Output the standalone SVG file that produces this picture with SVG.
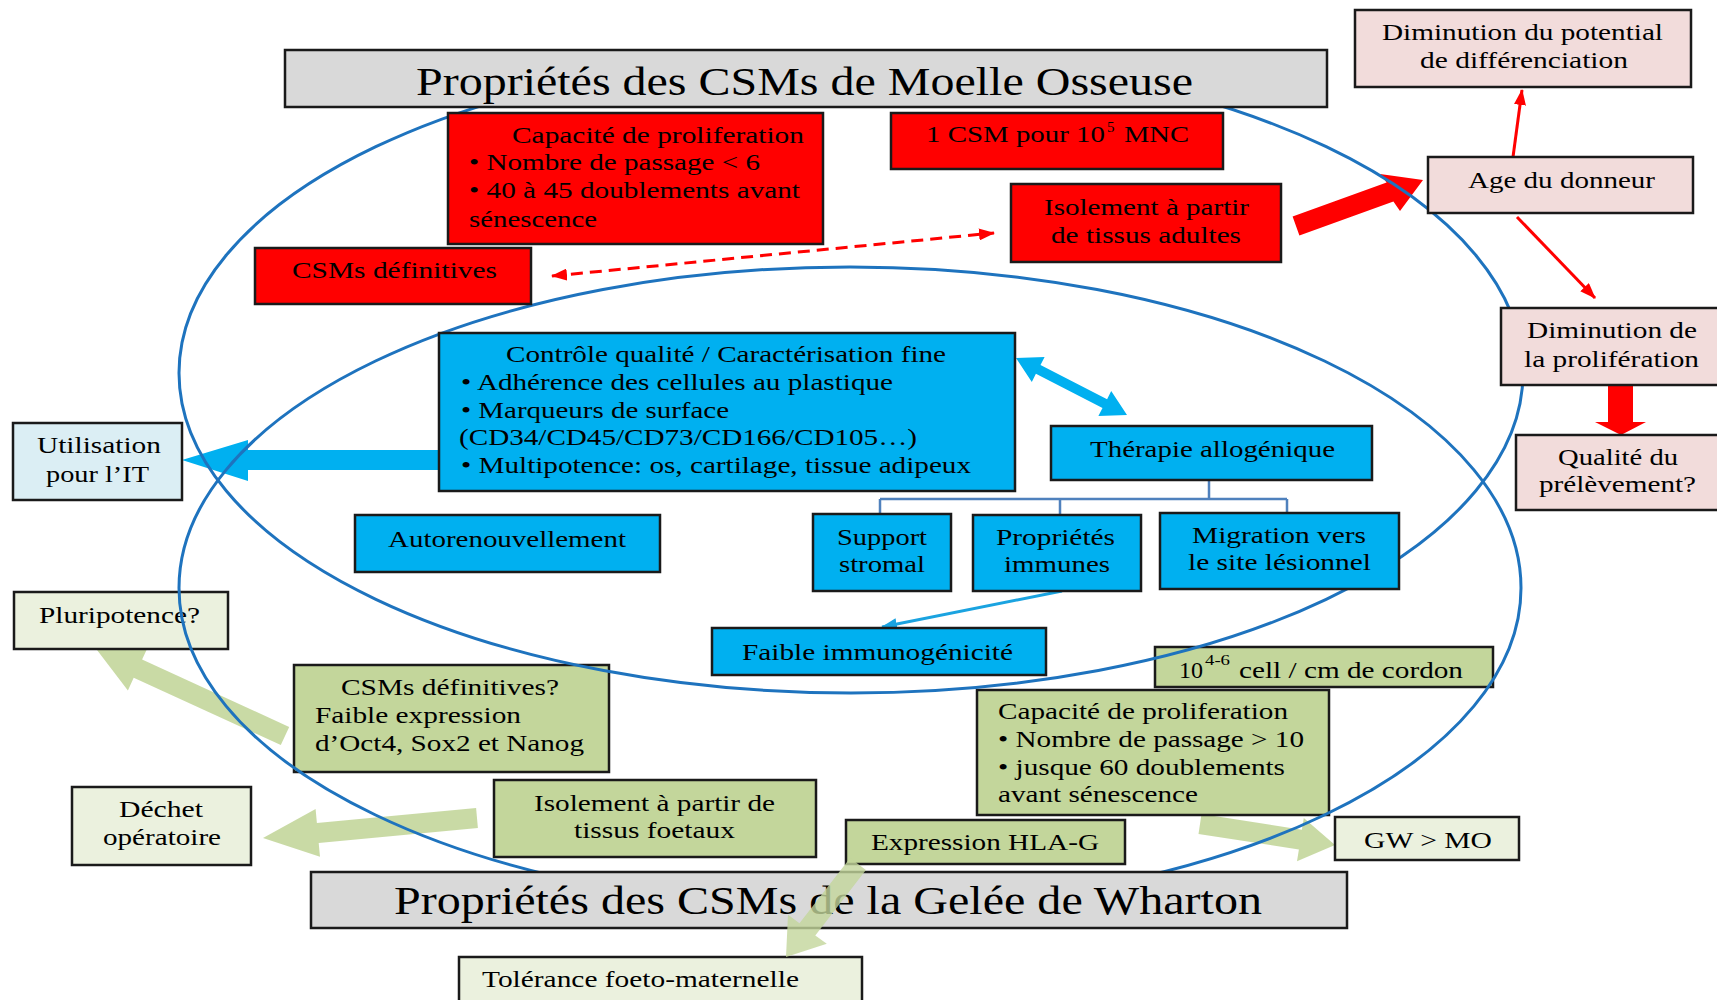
<svg xmlns="http://www.w3.org/2000/svg" width="1717" height="1000" viewBox="0 0 1717 1000">
<style>
.t{font-family:"Liberation Serif","Times New Roman",serif;font-size:24px;fill:#000}
.tt{font-family:"Liberation Serif","Times New Roman",serif;font-size:40px;fill:#000}
.sup{font-family:"Liberation Serif","Times New Roman",serif;font-size:15px;fill:#000}
.box{stroke:#1a1a1a;stroke-width:2.5}
.gray{fill:#d9d9d9}.red{fill:#ff0000}.blue{fill:#00b0f0}.lblue{fill:#dbeef4}
.pink{fill:#f2dcdb}.green{fill:#c3d69b}.lgreen{fill:#ebf1de}
.ell{fill:none;stroke:#1e73be;stroke-width:3}
.garrow{fill:#c3d69b;fill-opacity:0.9}
</style>
<defs>
<marker id="mr" markerUnits="userSpaceOnUse" markerWidth="16" markerHeight="12" refX="15" refY="6" orient="auto-start-reverse"><path d="M0,0 L16,6 L0,12 z" fill="#ff0000"/></marker>
<marker id="mb" markerUnits="userSpaceOnUse" markerWidth="16" markerHeight="12" refX="15" refY="6" orient="auto"><path d="M0,0 L16,6 L0,12 z" fill="#1aa3e0"/></marker>
</defs>
<rect width="1717" height="1000" fill="#ffffff"/>

<g id="connectors">
<polygon points="439,450 248,450 248,440 182,460 248,481 248,470 439,470" fill="#00b0f0"/>
<polygon points="1016,358 1031.8,381.9 1035.9,373.8 1102.5,408 1098.4,416.1 1127,415 1111.2,391.1 1107.1,399.2 1040.5,365 1044.6,357" fill="#00b0f0"/>
<path d="M1209,480 V499 M880,499 H1287 M880,499 V514 M1060,499 V515 M1287,499 V513" fill="none" stroke="#4f81bd" stroke-width="2.5"/>
<line x1="1062" y1="591" x2="882" y2="627" stroke="#1aa3e0" stroke-width="3" marker-end="url(#mb)"/>
<line x1="552" y1="276" x2="994" y2="233" stroke="#ff0000" stroke-width="3" stroke-dasharray="12,7" marker-start="url(#mr)" marker-end="url(#mr)"/>
<polygon points="1292.6,216.6 1386.6,182.6 1380,174 1423,180 1400,211 1393.4,201.4 1299.4,235.4" fill="#ff0000"/>
<line x1="1513" y1="157" x2="1522" y2="90" stroke="#ff0000" stroke-width="3" marker-end="url(#mr)"/>
<line x1="1517" y1="217" x2="1595" y2="298" stroke="#ff0000" stroke-width="3" marker-end="url(#mr)"/>
<polygon points="1608,385 1633,385 1633,422 1646,422 1621,435 1595,422 1608,422" fill="#ff0000"/>
<polygon class="garrow" points="289.2,726.9 142.1,659.6 147.9,646.9 97,650 127.9,690.5 133.7,677.8 280.8,745.1"/>
<polygon class="garrow" points="476.1,808 316.9,822.9 315.6,809 263,838 320,856.8 318.7,842.9 477.9,828"/>
<polygon class="garrow" points="1201.5,814.1 1301.9,829.7 1303.8,817.9 1335,845 1297,861.3 1298.9,849.5 1198.5,833.9"/>
</g>

<g id="n-pluri"><rect class="box lgreen" x="14" y="592" width="214" height="57"/><text class="t" x="39" y="623" textLength="161" lengthAdjust="spacingAndGlyphs">Pluripotence?</text></g>
<g id="n-csmdef-gw"><rect class="box green" x="294" y="665" width="315" height="107"/>
<text class="t" x="341" y="695" textLength="218" lengthAdjust="spacingAndGlyphs">CSMs définitives?</text>
<text class="t" x="315" y="723" textLength="206" lengthAdjust="spacingAndGlyphs">Faible expression</text>
<text class="t" x="315" y="751" textLength="269" lengthAdjust="spacingAndGlyphs">d’Oct4, Sox2 et Nanog</text></g>
<g id="n-dechet"><rect class="box lgreen" x="72" y="787" width="179" height="78"/>
<text class="t" x="119" y="817" textLength="84" lengthAdjust="spacingAndGlyphs">Déchet</text>
<text class="t" x="103" y="845" textLength="118" lengthAdjust="spacingAndGlyphs">opératoire</text></g>
<g id="n-iso-foet"><rect class="box green" x="494" y="780" width="322" height="77"/>
<text class="t" x="534" y="811" textLength="241" lengthAdjust="spacingAndGlyphs">Isolement à partir de</text>
<text class="t" x="574" y="838" textLength="161" lengthAdjust="spacingAndGlyphs">tissus foetaux</text></g>
<g id="n-cell"><rect class="box green" x="1155" y="647" width="338" height="40"/>
<text class="t" x="1179" y="678" textLength="24" lengthAdjust="spacingAndGlyphs">10</text>
<text class="sup" x="1205" y="665" textLength="25" lengthAdjust="spacingAndGlyphs">4-6</text>
<text class="t" x="1239" y="678" textLength="224" lengthAdjust="spacingAndGlyphs">cell / cm de cordon</text></g>
<g id="n-cap-gw"><rect class="box green" x="977" y="690" width="352" height="125"/>
<text class="t" x="998" y="719" textLength="290" lengthAdjust="spacingAndGlyphs">Capacité de proliferation</text>
<text class="t" x="998" y="747" textLength="306" lengthAdjust="spacingAndGlyphs">• Nombre de passage &gt; 10</text>
<text class="t" x="998" y="775" textLength="287" lengthAdjust="spacingAndGlyphs">• jusque 60 doublements</text>
<text class="t" x="998" y="802" textLength="200" lengthAdjust="spacingAndGlyphs">avant sénescence</text></g>
<g id="n-hla"><rect class="box green" x="846" y="820" width="279" height="44"/>
<text class="t" x="871" y="850" textLength="228" lengthAdjust="spacingAndGlyphs">Expression HLA-G</text></g>
<g id="n-gwmo"><rect class="box lgreen" x="1335" y="817" width="184" height="43"/>
<text class="t" x="1364" y="848" textLength="128" lengthAdjust="spacingAndGlyphs">GW &gt; MO</text></g>
<g id="n-tol"><rect class="box lgreen" x="459" y="957" width="403" height="50"/>
<text class="t" x="482" y="987" textLength="317" lengthAdjust="spacingAndGlyphs">Tolérance foeto-maternelle</text></g>

<g id="ellipses">
<ellipse class="ell" cx="851" cy="373" rx="672" ry="320"/>
<ellipse class="ell" cx="850" cy="588" rx="671" ry="321"/>
</g>

<g id="n-title-mo"><rect class="box gray" x="285" y="50" width="1042" height="57"/>
<text class="tt" x="416" y="95" textLength="777" lengthAdjust="spacingAndGlyphs">Propriétés des CSMs de Moelle Osseuse</text></g>
<g id="n-title-gw"><rect class="box gray" x="311" y="872" width="1036" height="56"/>
<text class="tt" x="394" y="914" textLength="868" lengthAdjust="spacingAndGlyphs">Propriétés des CSMs de la Gelée de Wharton</text></g>

<g id="n-cap-mo"><rect class="box red" x="448" y="113" width="375" height="131"/>
<text class="t" x="512" y="143" textLength="292" lengthAdjust="spacingAndGlyphs">Capacité de proliferation</text>
<text class="t" x="469" y="170" textLength="291" lengthAdjust="spacingAndGlyphs">• Nombre de passage &lt; 6</text>
<text class="t" x="469" y="198" textLength="331" lengthAdjust="spacingAndGlyphs">• 40 à 45 doublements avant</text>
<text class="t" x="469" y="227" textLength="128" lengthAdjust="spacingAndGlyphs">sénescence</text></g>
<g id="n-csm-mnc"><rect class="box red" x="891" y="113" width="332" height="56"/>
<text class="t" x="926" y="142" textLength="179" lengthAdjust="spacingAndGlyphs">1 CSM pour 10</text>
<text class="sup" x="1107" y="132">5</text>
<text class="t" x="1124" y="142" textLength="65" lengthAdjust="spacingAndGlyphs">MNC</text></g>
<g id="n-iso-ad"><rect class="box red" x="1011" y="184" width="270" height="78"/>
<text class="t" x="1044" y="215" textLength="205" lengthAdjust="spacingAndGlyphs">Isolement à partir</text>
<text class="t" x="1051" y="243" textLength="190" lengthAdjust="spacingAndGlyphs">de tissus adultes</text></g>
<g id="n-csmdef-mo"><rect class="box red" x="255" y="248" width="276" height="56"/>
<text class="t" x="292" y="278" textLength="205" lengthAdjust="spacingAndGlyphs">CSMs définitives</text></g>

<g id="n-dimpot"><rect class="box pink" x="1355" y="10" width="336" height="77"/>
<text class="t" x="1382" y="40" textLength="281" lengthAdjust="spacingAndGlyphs">Diminution du potential</text>
<text class="t" x="1420" y="68" textLength="208" lengthAdjust="spacingAndGlyphs">de différenciation</text></g>
<g id="n-age"><rect class="box pink" x="1428" y="157" width="265" height="56"/>
<text class="t" x="1468" y="188" textLength="187" lengthAdjust="spacingAndGlyphs">Age du donneur</text></g>
<g id="n-dimprol"><rect class="box pink" x="1501" y="308" width="220" height="77"/>
<text class="t" x="1527" y="338" textLength="170" lengthAdjust="spacingAndGlyphs">Diminution de</text>
<text class="t" x="1524" y="367" textLength="175" lengthAdjust="spacingAndGlyphs">la prolifération</text></g>
<g id="n-qual"><rect class="box pink" x="1516" y="435" width="205" height="75"/>
<text class="t" x="1558" y="465" textLength="120" lengthAdjust="spacingAndGlyphs">Qualité du</text>
<text class="t" x="1539" y="492" textLength="157" lengthAdjust="spacingAndGlyphs">prélèvement?</text></g>

<g id="n-ctrl"><rect class="box blue" x="439" y="333" width="576" height="158"/>
<text class="t" x="506" y="362" textLength="440" lengthAdjust="spacingAndGlyphs">Contrôle qualité / Caractérisation fine</text>
<text class="t" x="461" y="390" textLength="432" lengthAdjust="spacingAndGlyphs">• Adhérence des cellules au plastique</text>
<text class="t" x="461" y="418" textLength="268" lengthAdjust="spacingAndGlyphs">• Marqueurs de surface</text>
<text class="t" x="459" y="445" textLength="458" lengthAdjust="spacingAndGlyphs">(CD34/CD45/CD73/CD166/CD105…)</text>
<text class="t" x="461" y="473" textLength="510" lengthAdjust="spacingAndGlyphs">• Multipotence: os, cartilage, tissue adipeux</text></g>
<g id="n-util"><rect class="box lblue" x="13" y="423" width="169" height="77"/>
<text class="t" x="37" y="453" textLength="124" lengthAdjust="spacingAndGlyphs">Utilisation</text>
<text class="t" x="46" y="482" textLength="103" lengthAdjust="spacingAndGlyphs">pour l’IT</text></g>
<g id="n-auto"><rect class="box blue" x="355" y="515" width="305" height="57"/>
<text class="t" x="388" y="547" textLength="238" lengthAdjust="spacingAndGlyphs">Autorenouvellement</text></g>
<g id="n-thera"><rect class="box blue" x="1051" y="426" width="321" height="54"/>
<text class="t" x="1090" y="457" textLength="245" lengthAdjust="spacingAndGlyphs">Thérapie allogénique</text></g>
<g id="n-support"><rect class="box blue" x="813" y="514" width="138" height="77"/>
<text class="t" x="837" y="545" textLength="90" lengthAdjust="spacingAndGlyphs">Support</text>
<text class="t" x="839" y="572" textLength="86" lengthAdjust="spacingAndGlyphs">stromal</text></g>
<g id="n-propimm"><rect class="box blue" x="973" y="515" width="168" height="76"/>
<text class="t" x="996" y="545" textLength="119" lengthAdjust="spacingAndGlyphs">Propriétés</text>
<text class="t" x="1004" y="572" textLength="106" lengthAdjust="spacingAndGlyphs">immunes</text></g>
<g id="n-migr"><rect class="box blue" x="1160" y="513" width="239" height="76"/>
<text class="t" x="1192" y="543" textLength="174" lengthAdjust="spacingAndGlyphs">Migration vers</text>
<text class="t" x="1188" y="570" textLength="183" lengthAdjust="spacingAndGlyphs">le site lésionnel</text></g>
<g id="n-faible"><rect class="box blue" x="712" y="628" width="334" height="47"/>
<text class="t" x="742" y="660" textLength="271" lengthAdjust="spacingAndGlyphs">Faible immunogénicité</text></g>

<g id="connectors-top">
<polygon points="850.1,857.9 799.5,923.2 788,914.8 786,957 826.8,943.8 815.3,935.4 865.9,870.1" fill="#c3d69b" fill-opacity="0.8"/>
</g>
</svg>
